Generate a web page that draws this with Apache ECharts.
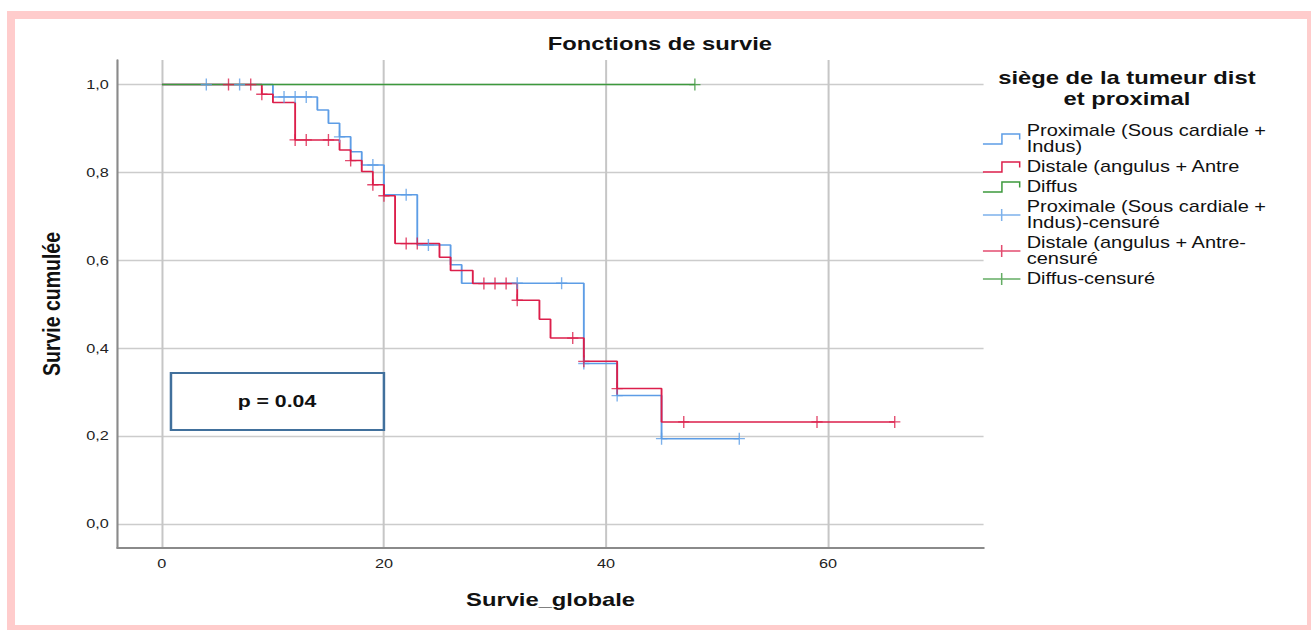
<!DOCTYPE html>
<html>
<head>
<meta charset="utf-8">
<title>Fonctions de survie</title>
<script src="https://cdn.jsdelivr.net/npm/echarts@6/dist/echarts.min.js"></script>
<style>
  html, body { margin: 0; padding: 0; background: #ffffff; }
  #wrap { position: relative; width: 1311px; height: 630px; overflow: hidden; }
  /* The chart is laid out at 1049px and widened to the full 1311px,
     giving the broad lettering and heavier vertical rules of the export. */
  #chart {
    position: absolute; left: 0; top: 0; width: 1049px; height: 630px;
    transform: scaleX(1.24976); transform-origin: 0 0;
  }
  #frame {
    position: absolute; left: 7px; top: 11px; width: 1308px; height: 622px;
    box-sizing: border-box; border: 8px solid #ffcccc; pointer-events: none;
  }
</style>
</head>
<body>
<div id="wrap">
  <div id="chart"></div>
  <div id="frame"></div>
</div>
<script>
// Kaplan-Meier step curves: [time, cumulative survival]; last point closes the curve
const proximaleSteps = [
  [0, 1.0], [10, 0.972], [14, 0.942], [15, 0.912], [16, 0.881], [17, 0.847],
  [18, 0.817], [20, 0.749], [23, 0.635], [26, 0.590], [27, 0.548],
  [38, 0.365], [41, 0.292], [45, 0.194], [52, 0.194]
];
const distaleSteps = [
  [0, 1.0], [9, 0.978], [10, 0.959], [12, 0.874], [16, 0.851], [17, 0.827],
  [18, 0.802], [19, 0.772], [20, 0.747], [21, 0.638], [25, 0.607], [26, 0.577],
  [28, 0.547], [32, 0.509], [34, 0.466], [35, 0.423], [38, 0.370], [41, 0.308],
  [45, 0.232], [66, 0.232]
];
const diffusSteps = [[0, 1.0], [48, 1.0]];

// Censored observations
const proximaleCensored = [
  [4, 1.0], [7, 1.0], [11, 0.972], [12, 0.972], [13, 0.972], [16, 0.881],
  [19, 0.817], [22, 0.749], [24, 0.635], [32, 0.548], [36, 0.548],
  [38, 0.365], [41, 0.292], [45, 0.194], [52, 0.194]
];
const distaleCensored = [
  [6, 1.0], [8, 1.0], [9, 0.978], [12, 0.874], [13, 0.874], [15, 0.874],
  [17, 0.827], [19, 0.772], [20, 0.747], [22, 0.638], [23, 0.638],
  [29, 0.547], [30, 0.547], [31, 0.547], [32, 0.509], [37, 0.423],
  [38, 0.370], [41, 0.308], [47, 0.232], [59, 0.232], [66, 0.232]
];
const diffusCensored = [[48, 1.0]];

const seriesNames = [
  'Proximale (Sous cardiale + Indus)',
  'Distale (angulus + Antre',
  'Diffus',
  'Proximale (Sous cardiale + Indus)-censuré',
  'Distale (angulus + Antre-censuré',
  'Diffus-censuré'
];
const legendLabels = [
  'Proximale (Sous cardiale +\nIndus)',
  'Distale (angulus + Antre',
  'Diffus',
  'Proximale (Sous cardiale +\nIndus)-censuré',
  'Distale (angulus + Antre-\ncensuré',
  'Diffus-censuré'
];

const xTicks = [0, 20, 40, 60];
const yTicks = [0, 0.2, 0.4, 0.6, 0.8, 1.0];

const chartTitle = 'Fonctions de survie';
const legendTitle = ['siège de la tumeur dist', 'et proximal'];
const xName = 'Survie_globale';
const yName = 'Survie cumulée';
const pText = 'p = 0.04';

const BLUE = '#5d9de6';
const RED = '#dc1f4b';
const GREEN = '#3d993d';
const FONT = '"Liberation Sans", Arial, sans-serif';

// legend glyphs (30 x 12 box): a small step for curves, a tick on a line for censored marks
const stepIcon = 'path://M0,10H15.6V11.4H0Z M14.6,0H15.8V11.4H14.6Z M14.6,0H30V1.4H14.6Z M28.8,0H30V6.2H28.8Z';
const censIcon = 'path://M0,5.3H30V6.7H0Z M14.4,0H15.6V12H14.4Z';
const crossSymbol = 'path://M0,5.35H9V6.65H0Z M3.95,0H5.05V12H3.95Z';

const chart = echarts.init(document.getElementById('chart'), null, { renderer: 'svg' });

function stepSeries(name, data, color) {
  return {
    name: name, type: 'line', step: 'end', data: data,
    symbol: 'none', showSymbol: false, silent: true,
    color: color,
    lineStyle: { color: color, width: 1.5 },
    z: 3
  };
}
function censSeries(name, data, color) {
  return {
    name: name, type: 'scatter', data: data,
    symbol: crossSymbol, symbolSize: [9, 12], silent: true,
    color: color,
    itemStyle: { color: color, borderWidth: 0 },
    z: 4
  };
}

const colors = [BLUE, RED, GREEN, BLUE, RED, GREEN];

const option = {
  animation: false,
  backgroundColor: '#ffffff',
  textStyle: { fontFamily: FONT },
  grid: { left: 94, right: 262, top: 60, bottom: 82, containLabel: false },
  xAxis: {
    type: 'value', min: -4, max: 74,
    name: xName, nameLocation: 'middle', nameGap: 42,
    nameTextStyle: { fontFamily: FONT, fontSize: 19, fontWeight: 'bold', color: '#111' },
    axisLine: { onZero: false, lineStyle: { color: '#8a8a8a', width: 2 } },
    axisTick: { show: false, customValues: xTicks },
    axisLabel: { customValues: xTicks, margin: 9, fontFamily: FONT, fontSize: 13, color: '#222' },
    splitLine: { show: true, lineStyle: { color: '#c6c6c6', width: 1.6 } }
  },
  yAxis: {
    type: 'value', min: -0.055, max: 1.056,
    name: yName, nameLocation: 'middle', nameGap: 43, nameRotate: 90,
    nameTextStyle: { fontFamily: FONT, fontSize: 19.5, fontWeight: 'bold', color: '#111' },
    axisLine: { onZero: false, lineStyle: { color: '#8a8a8a', width: 1.7 } },
    axisTick: { show: false, customValues: yTicks },
    axisLabel: {
      customValues: yTicks, margin: 7, fontFamily: FONT, fontSize: 13, color: '#222',
      formatter: v => v.toFixed(1).replace('.', ',')
    },
    splitLine: { show: true, lineStyle: { color: '#cccccc', width: 1.4 } }
  },
  legend: {
    orient: 'vertical', left: 786.5, top: 123,
    itemWidth: 30, itemHeight: 12, itemGap: 4,
    selectedMode: false, padding: 0,
    itemStyle: { borderWidth: 0 },
    textStyle: { fontFamily: FONT, fontSize: 16, color: '#111', lineHeight: 16, padding: [0, 0, 0, 0] },
    formatter: name => legendLabels[seriesNames.indexOf(name)],
    data: seriesNames.map((n, i) => ({
      name: n, icon: i < 3 ? stepIcon : censIcon,
      itemStyle: { color: colors[i], borderWidth: 0 }
    }))
  },
  graphic: [
    {
      type: 'text', x: 528, y: 44, silent: true,
      style: { text: chartTitle, fontFamily: FONT, fontSize: 19, fontWeight: 'bold',
               fill: '#111', align: 'center', verticalAlign: 'middle' }
    },
    {
      type: 'text', x: 901.7, y: 78, silent: true,
      style: { text: legendTitle[0], fontFamily: FONT, fontSize: 19, fontWeight: 'bold',
               fill: '#111', align: 'center', verticalAlign: 'middle' }
    },
    {
      type: 'text', x: 901.7, y: 99, silent: true,
      style: { text: legendTitle[1], fontFamily: FONT, fontSize: 19, fontWeight: 'bold',
               fill: '#111', align: 'center', verticalAlign: 'middle' }
    },
    {
      type: 'rect', silent: true, z: 10,
      shape: { x: 136.8, y: 373, width: 170.4, height: 57 },
      style: { fill: '#ffffff', stroke: '#41709c', lineWidth: 2 }
    },
    {
      type: 'text', x: 221.6, y: 401, silent: true, z: 11,
      style: { text: pText, fontFamily: FONT, fontSize: 17, fontWeight: 'bold',
               fill: '#111', align: 'center', verticalAlign: 'middle' }
    }
  ],
  series: [
    stepSeries(seriesNames[0], proximaleSteps, BLUE),
    stepSeries(seriesNames[1], distaleSteps, RED),
    stepSeries(seriesNames[2], diffusSteps, GREEN),
    censSeries(seriesNames[3], proximaleCensored, BLUE),
    censSeries(seriesNames[4], distaleCensored, RED),
    censSeries(seriesNames[5], diffusCensored, GREEN)
  ]
};

chart.setOption(option);
</script>
</body>
</html>
